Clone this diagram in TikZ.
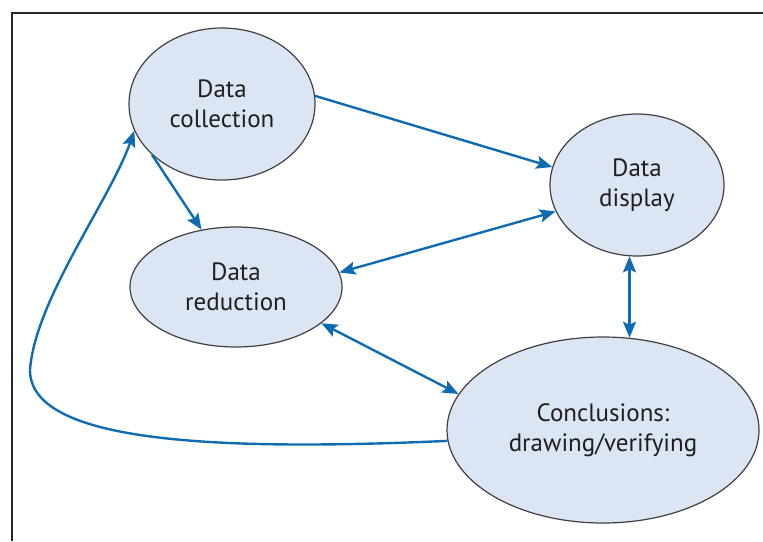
\documentclass[tikz,border=0pt]{standalone}
\usepackage{fontspec}
\setmainfont{PT Sans}
\usetikzlibrary{shapes.geometric, arrows.meta}
\definecolor{flowblue}{RGB}{16,108,178}
\definecolor{bubblefill}{RGB}{219,229,243}
\tikzset{
  stage/.style={ellipse, draw=black!75, line width=0.6pt, fill=bubblefill, inner sep=0pt, align=center, text=black!88, font=\fontsize{12.5}{15}\selectfont},
  flow/.style={->, draw=flowblue, line width=1.2pt},
  flowboth/.style={<->, draw=flowblue, line width=1.2pt},
}

\begin{document}
\begin{tikzpicture}[x=0.5pt, y=-0.5pt,
  >={Stealth[length=8pt, width=6.5pt, inset=1.5pt]}]
\useasboundingbox (0,0) rectangle (763,541);
\draw[line width=1pt, black!85] (763,13) -- (12,13) -- (12,541);

\node[stage, minimum width=93pt, minimum height=76pt] (collect) at (222,104) {Data\\collection};
\node[stage, minimum width=87pt, minimum height=71pt] (display) at (637,185) {Data\\display};
\node[stage, minimum width=106pt, minimum height=60pt] (reduce) at (236,287) {Data\\reduction};
\node[stage, minimum width=156pt, minimum height=93pt] (concl) at (603,430) {Conclusions:\\drawing/verifying};

\draw[flow] (collect.5) -- (display.168);
\draw[flow] (collect.-144) -- (reduce.121);
\draw[flowboth] (display.198) -- (reduce.8);
\draw[flowboth] (reduce.-23) -- (concl.166);
\draw[flowboth] (display.-96) -- (display.-96 |- concl.74);
\draw[flow] (concl.184) .. controls (200,452) and (30,440) .. (30,370)
  .. controls (35,300) and (110,200) .. (collect.197);
\end{tikzpicture}
\end{document}
